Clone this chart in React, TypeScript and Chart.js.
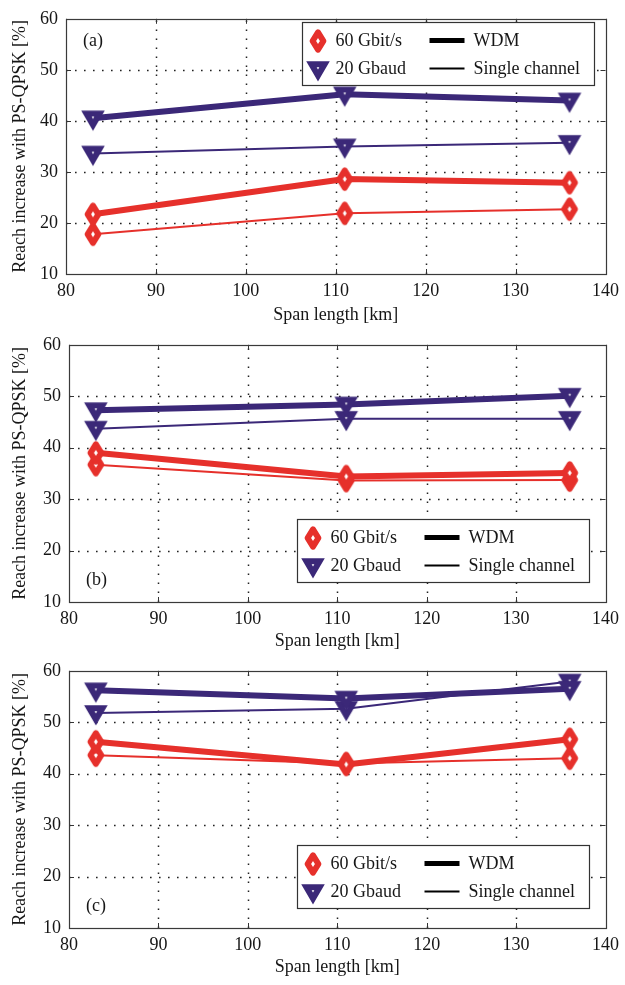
import React, { useEffect, useRef } from 'react';
import { Chart, registerables } from 'chart.js';

Chart.register(...registerables);

// ---------- data ----------
const spanLengths = [83, 111, 136];
const xTicks = [80, 90, 100, 110, 120, 130, 140];
const yTicks = [10, 20, 30, 40, 50, 60];
const markerLabels = ['60 Gbit/s', '20 Gbaud'];
const lineLabels = ['WDM', 'Single channel'];
const xTitle = 'Span length [km]';
const yTitle = 'Reach increase with PS-QPSK [%]';

// panel (a)
const aGbitWdm = [21.7, 28.6, 27.9];
const aGbitSingle = [17.8, 21.9, 22.7];
const aGbaudWdm = [40.5, 45.2, 44.0];
const aGbaudSingle = [33.6, 35.0, 35.7];
// panel (b)
const bGbitWdm = [39.0, 34.4, 35.1];
const bGbitSingle = [36.7, 33.6, 33.7];
const bGbaudWdm = [47.3, 48.4, 50.1];
const bGbaudSingle = [43.7, 45.6, 45.6];
// panel (c)
const cGbitWdm = [46.2, 41.8, 46.7];
const cGbitSingle = [43.6, 42.0, 43.0];
const cGbaudWdm = [56.2, 54.6, 56.5];
const cGbaudSingle = [51.8, 52.6, 57.9];

// ---------- styles ----------
const RED = '#e6302b';
const PURPLE = '#3b2878';
const FONT = "'Liberation Serif', 'Times New Roman', serif";
const TEXT = '#161616';

type Panel = {
  label: string;
  top: number;
  height: number;
  areaTop: number;
  areaBottom: number;
  left: number;
  right: number;
  legendAt: 'top' | 'bottom';
  gbitWdm: number[];
  gbitSingle: number[];
  gbaudWdm: number[];
  gbaudSingle: number[];
};

const panels: Panel[] = [
  { label: '(a)', top: 0, height: 331, areaTop: 13, areaBottom: 274, left: 66, right: 610, legendAt: 'top',
    gbitWdm: aGbitWdm, gbitSingle: aGbitSingle, gbaudWdm: aGbaudWdm, gbaudSingle: aGbaudSingle },
  { label: '(b)', top: 326, height: 331, areaTop: 11, areaBottom: 276, left: 69, right: 612, legendAt: 'bottom',
    gbitWdm: bGbitWdm, gbitSingle: bGbitSingle, gbaudWdm: bGbaudWdm, gbaudSingle: bGbaudSingle },
  { label: '(c)', top: 652, height: 331, areaTop: 11, areaBottom: 276, left: 69, right: 612, legendAt: 'bottom',
    gbitWdm: cGbitWdm, gbitSingle: cGbitSingle, gbaudWdm: cGbaudWdm, gbaudSingle: cGbaudSingle },
];

const MARK_BW = 6;

// marker sprites (MATLAB-like tall diamond and down triangle)
function makeDiamond(color: string): HTMLCanvasElement {
  const c = document.createElement('canvas');
  c.width = 24;
  c.height = 32;
  const ctx = c.getContext('2d')!;
  const cx = 12, cy = 16, hw = 5.4, hh = 8.6;
  ctx.beginPath();
  ctx.moveTo(cx, cy - hh);
  ctx.lineTo(cx + hw, cy);
  ctx.lineTo(cx, cy + hh);
  ctx.lineTo(cx - hw, cy);
  ctx.closePath();
  ctx.fillStyle = '#fff';
  ctx.fill();
  ctx.lineWidth = MARK_BW;
  ctx.strokeStyle = color;
  ctx.lineJoin = 'round';
  ctx.stroke();
  return c;
}

function makeTriangle(color: string): HTMLCanvasElement {
  const c = document.createElement('canvas');
  c.width = 30;
  c.height = 28;
  const ctx = c.getContext('2d')!;
  const cx = 15, cy = 13;
  const r = 7.6;
  const s = Math.sqrt(3) / 2;
  ctx.beginPath();
  ctx.moveTo(cx, cy + r);
  ctx.lineTo(cx + r * s, cy - r / 2);
  ctx.lineTo(cx - r * s, cy - r / 2);
  ctx.closePath();
  ctx.fillStyle = '#fff';
  ctx.fill();
  ctx.lineWidth = MARK_BW;
  ctx.strokeStyle = color;
  ctx.lineJoin = 'miter';
  ctx.miterLimit = 10;
  ctx.stroke();
  return c;
}

function makeFramePlugin(p: Panel, diamond: HTMLCanvasElement, tri: HTMLCanvasElement) {
  return {
    id: 'frameGrid' + p.label.replace(/[()]/g, ''),
    beforeDatasetsDraw(chart: any) {
      const ctx: CanvasRenderingContext2D = chart.ctx;
      const { left, right, top, bottom } = chart.chartArea;
      const xs = chart.scales.x;
      const ys = chart.scales.y;
      ctx.save();
      // dotted grid
      ctx.strokeStyle = '#222';
      ctx.lineWidth = 1.5;
      ctx.setLineDash([1.6, 7.4]);
      xTicks.slice(1, -1).forEach((v) => {
        const px = Math.round(xs.getPixelForValue(v)) + 0.5;
        ctx.beginPath();
        ctx.moveTo(px, bottom);
        ctx.lineTo(px, top);
        ctx.stroke();
      });
      yTicks.slice(1, -1).forEach((v) => {
        const py = Math.round(ys.getPixelForValue(v)) + 0.5;
        ctx.beginPath();
        ctx.moveTo(left, py);
        ctx.lineTo(right, py);
        ctx.stroke();
      });
      ctx.setLineDash([]);
      // inward ticks
      ctx.strokeStyle = '#333';
      ctx.lineWidth = 1;
      const tl = 5;
      xTicks.forEach((v) => {
        const px = Math.round(xs.getPixelForValue(v)) + 0.5;
        ctx.beginPath();
        ctx.moveTo(px, bottom);
        ctx.lineTo(px, bottom - tl);
        ctx.moveTo(px, top);
        ctx.lineTo(px, top + tl);
        ctx.stroke();
      });
      yTicks.forEach((v) => {
        const py = Math.round(ys.getPixelForValue(v)) + 0.5;
        ctx.beginPath();
        ctx.moveTo(left, py);
        ctx.lineTo(left + tl, py);
        ctx.moveTo(right, py);
        ctx.lineTo(right - tl, py);
        ctx.stroke();
      });
      // frame
      ctx.strokeStyle = '#3a3a3a';
      ctx.lineWidth = 1.2;
      ctx.strokeRect(Math.round(left) + 0.5, Math.round(top) + 0.5, Math.round(right - left), Math.round(bottom - top));
      ctx.restore();
    },
    afterDatasetsDraw(chart: any) {
      const ctx: CanvasRenderingContext2D = chart.ctx;
      const { left, right, top, bottom } = chart.chartArea;
      ctx.save();
      // legend box
      const bw = 292;
      const bh = 63;
      let bx: number, by: number;
      if (p.legendAt === 'top') {
        bx = right - 12 - bw;
        by = top + 3;
      } else {
        bx = right - 17 - bw;
        by = bottom - 20 - bh;
      }
      bx = Math.round(bx) + 0.5;
      by = Math.round(by) + 0.5;
      ctx.fillStyle = '#fff';
      ctx.fillRect(bx, by, bw, bh);
      ctx.strokeStyle = '#333';
      ctx.lineWidth = 1.2;
      ctx.strokeRect(bx, by, bw, bh);
      const row1 = by + 18;
      const row2 = by + 46;
      ctx.drawImage(diamond, Math.round(bx + 15 - diamond.width / 2), Math.round(row1 - diamond.height / 2));
      ctx.drawImage(tri, Math.round(bx + 15 - tri.width / 2), Math.round(row2 - tri.height / 2));
      ctx.fillStyle = TEXT;
      ctx.font = `18px ${FONT}`;
      ctx.textBaseline = 'middle';
      ctx.textAlign = 'left';
      ctx.fillText(markerLabels[0], bx + 33, row1 + 1);
      ctx.fillText(markerLabels[1], bx + 33, row2 + 1);
      ctx.fillText(lineLabels[0], bx + 171, row1 + 1);
      ctx.fillText(lineLabels[1], bx + 171, row2 + 1);
      ctx.strokeStyle = '#000';
      ctx.lineWidth = 5;
      ctx.beginPath();
      ctx.moveTo(bx + 127, row1);
      ctx.lineTo(bx + 162, row1);
      ctx.stroke();
      ctx.lineWidth = 2;
      ctx.beginPath();
      ctx.moveTo(bx + 127, row2);
      ctx.lineTo(bx + 162, row2);
      ctx.stroke();
      // panel label
      ctx.fillStyle = TEXT;
      ctx.font = `18px ${FONT}`;
      ctx.textBaseline = 'middle';
      ctx.textAlign = 'left';
      const ly = p.legendAt === 'top' ? top + 22 : bottom - 22;
      ctx.fillText(p.label, left + 17, ly);
      ctx.restore();
    },
  };
}

function series(data: number[]) {
  return data.map((v, i) => ({ x: spanLengths[i], y: v }));
}

function PanelChart({ p }: { p: Panel }) {
  const ref = useRef<HTMLCanvasElement | null>(null);
  useEffect(() => {
    if (!ref.current) return;
    const diamond = makeDiamond(RED);
    const tri = makeTriangle(PURPLE);
    const gbitStyle = {
      borderColor: RED,
      pointBorderColor: RED,
      pointBackgroundColor: '#fff',
      pointStyle: diamond,
      pointRadius: 9,
    };
    const gbaudStyle = {
      borderColor: PURPLE,
      pointBorderColor: PURPLE,
      pointBackgroundColor: '#fff',
      pointStyle: tri,
      pointRadius: 9,
    };
    const tickFont = { family: FONT, size: 18 };
    const chart = new Chart(ref.current, {
      type: 'line',
      data: {
        datasets: [
          { label: markerLabels[1] + ' ' + lineLabels[0], data: series(p.gbaudWdm), borderWidth: 6, ...gbaudStyle },
          { label: markerLabels[1] + ' ' + lineLabels[1], data: series(p.gbaudSingle), borderWidth: 2, ...gbaudStyle },
          { label: markerLabels[0] + ' ' + lineLabels[0], data: series(p.gbitWdm), borderWidth: 6, ...gbitStyle },
          { label: markerLabels[0] + ' ' + lineLabels[1], data: series(p.gbitSingle), borderWidth: 2, ...gbitStyle },
        ] as any,
      },
      options: {
        responsive: false,
        animation: false,
        devicePixelRatio: 1,
        layout: { padding: { top: p.areaTop, right: 625 - p.right, left: 0, bottom: 0 } },
        elements: { line: { tension: 0, fill: false, borderJoinStyle: 'round' } },
        plugins: { legend: { display: false }, tooltip: { enabled: false } },
        scales: {
          x: {
            type: 'linear',
            min: xTicks[0],
            max: xTicks[xTicks.length - 1],
            afterBuildTicks: (s: any) => {
              s.ticks = xTicks.map((v) => ({ value: v }));
            },
            grid: { display: false, drawTicks: false },
            border: { display: false },
            ticks: { font: tickFont, color: TEXT, padding: 6, maxRotation: 0, autoSkip: false },
            title: { display: true, text: xTitle, font: tickFont, color: TEXT, padding: { top: 0, bottom: 5 } },
            afterFit: (s: any) => {
              s.height = p.height - p.areaBottom;
            },
          },
          y: {
            type: 'linear',
            min: yTicks[0],
            max: yTicks[yTicks.length - 1],
            afterBuildTicks: (s: any) => {
              s.ticks = yTicks.map((v) => ({ value: v }));
            },
            grid: { display: false, drawTicks: false },
            border: { display: false },
            ticks: { font: tickFont, color: TEXT, padding: 8, autoSkip: false },
            title: { display: true, text: yTitle, font: tickFont, color: TEXT, padding: { top: 9, bottom: 0 } },
            afterFit: (s: any) => {
              s.width = p.left;
            },
          },
        },
      } as any,
      plugins: [makeFramePlugin(p, diamond, tri)],
    });
    return () => chart.destroy();
  }, [p]);
  return (
    <canvas
      ref={ref}
      width={625}
      height={p.height}
      style={{ position: 'absolute', left: 0, top: p.top, width: 625, height: p.height }}
    />
  );
}

export default function App() {
  return (
    <div style={{ position: 'absolute', left: 0, top: 0, width: 625, height: 985, background: '#fff', overflow: 'hidden' }}>
      {panels.map((p) => (
        <PanelChart key={p.label} p={p} />
      ))}
    </div>
  );
}
